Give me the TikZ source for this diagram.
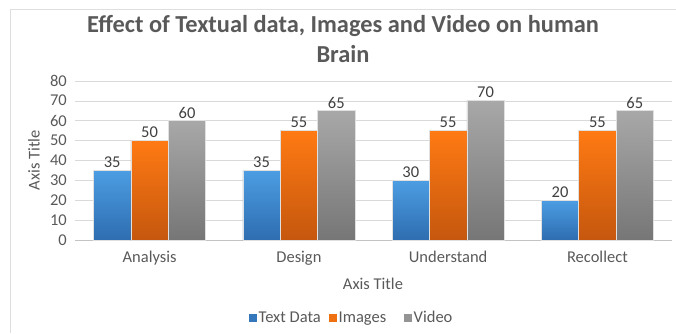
\documentclass[tikz,border=0pt]{standalone}
\usepackage{fontspec}
\setmainfont{Carlito}
\usetikzlibrary{positioning}
\definecolor{gridgray}{RGB}{217,217,217}
\definecolor{framegray}{RGB}{222,222,222}
\definecolor{labelgray}{RGB}{89,89,89}
\definecolor{valuegray}{RGB}{64,64,64}
\definecolor{textbluetop}{RGB}{76,157,227}
\definecolor{textbluebot}{RGB}{46,109,176}
\definecolor{imgorangetop}{RGB}{255,122,19}
\definecolor{imgorangebot}{RGB}{197,87,14}
\definecolor{videograytop}{RGB}{168,168,168}
\definecolor{videograybot}{RGB}{118,118,118}
\tikzset{
  bar/.style={draw=white!88!black,line width=.5pt},
  textbar/.style={bar,top color=textbluetop,bottom color=textbluebot},
  imgbar/.style={bar,top color=imgorangetop,bottom color=imgorangebot},
  vidbar/.style={bar,top color=videograytop,bottom color=videograybot},
  vallabel/.style={text=valuegray,yshift=8pt,inner sep=0pt},
  ticklabel/.style={text=labelgray,anchor=east,inner sep=0pt},
  catlabel/.style={text=labelgray,anchor=base,inner sep=0pt},
  legkey/.style={minimum size=8pt,inner sep=0pt},
  legtext/.style={text=labelgray,anchor=base west,inner sep=0pt}
}
\begin{document}
\begin{tikzpicture}[x=1pt,y=1pt,every node/.style={font=\fontsize{16.5}{19}\selectfont}]
  \useasboundingbox (0,0) rectangle (676,333);
  \draw[framegray] (10,0) -- (10,324) -- (676,324);
  \node[text=labelgray,align=center,font=\fontsize{24.4}{30}\selectfont\bfseries] (title) at (343,294) {Effect of Textual data, Images and Video on human\\Brain};
  \node[text=labelgray,rotate=90] (ytitle) at (34,173) {Axis Title};
  \begin{scope}[shift={(0,93)},y=1.99pt]
    \foreach \v in {10,20,...,80}
      \draw[gridgray] (75,\v) -- (672,\v);
    \draw[gridgray!90!black] (75,0) -- (672,0);
    \foreach \v in {0,10,...,80}
      \node[ticklabel] (tick\v) at (67,\v) {\v};
    \fill[textbar] (93.6,0) rectangle (130.9,35);
    \fill[imgbar] (130.9,0) rectangle (168.3,50);
    \fill[vidbar] (168.3,0) rectangle (205.6,60);
    \fill[textbar] (242.9,0) rectangle (280.2,35);
    \fill[imgbar] (280.2,0) rectangle (317.6,55);
    \fill[vidbar] (317.6,0) rectangle (354.9,65);
    \fill[textbar] (392.1,0) rectangle (429.4,30);
    \fill[imgbar] (429.4,0) rectangle (466.8,55);
    \fill[vidbar] (466.8,0) rectangle (504.1,70);
    \fill[textbar] (541.4,0) rectangle (578.7,20);
    \fill[imgbar] (578.7,0) rectangle (616.1,55);
    \fill[vidbar] (616.1,0) rectangle (653.4,65);
    \node[vallabel] (ana1) at (112.2,35) {35};
    \node[vallabel] (ana2) at (149.6,50) {50};
    \node[vallabel] (ana3) at (187.0,60) {60};
    \node[vallabel] (des1) at (261.6,35) {35};
    \node[vallabel] (des2) at (298.9,55) {55};
    \node[vallabel] (des3) at (336.3,65) {65};
    \node[vallabel] (und1) at (410.8,30) {30};
    \node[vallabel] (und2) at (448.1,55) {55};
    \node[vallabel] (und3) at (485.5,70) {70};
    \node[vallabel] (rec1) at (560.1,20) {20};
    \node[vallabel] (rec2) at (597.4,55) {55};
    \node[vallabel] (rec3) at (634.8,65) {65};
  \end{scope}
  \node[catlabel] (analysis) at (149.6,70.5) {Analysis};
  \node[catlabel] (design) at (298.9,70.5) {Design};
  \node[catlabel] (understand) at (448.1,70.5) {Understand};
  \node[catlabel] (recollect) at (597.4,70.5) {Recollect};
  \node[catlabel] (xtitle) at (373,44) {Axis Title};
  \node[legkey,fill=textbluebot!80!textbluetop] (keytext) at (253,15.5) {};
  \node[legtext] (legtext) at (258.5,11) {Text Data};
  \node[legkey,fill=imgorangetop!70!imgorangebot] (keyimg) at (333,15.5) {};
  \node[legtext] (legimg) at (338.5,11) {Images};
  \node[legkey,fill=videograytop!60!videograybot] (keyvid) at (408,15.5) {};
  \node[legtext] (legvid) at (413.5,11) {Video};
\end{tikzpicture}
\end{document}
